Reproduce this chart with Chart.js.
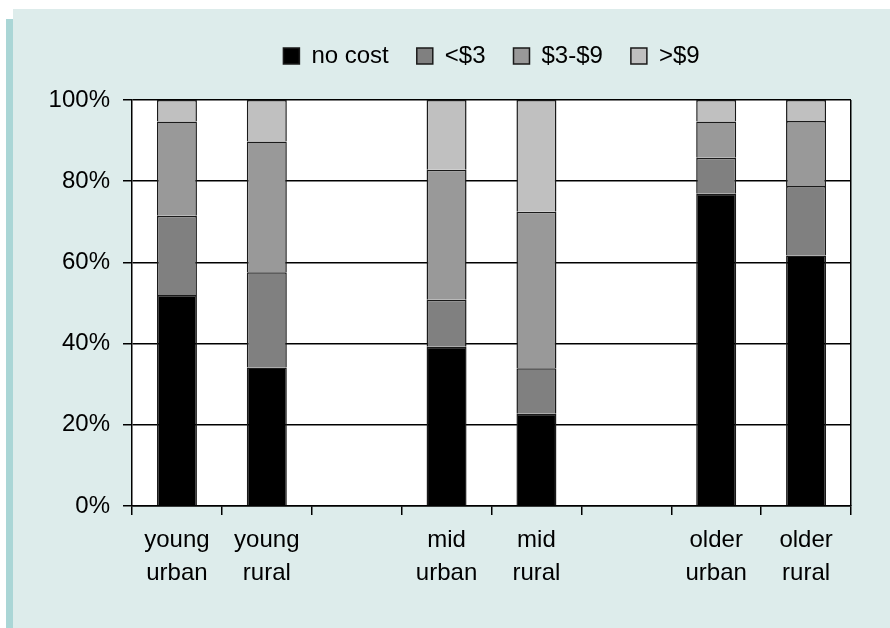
<!DOCTYPE html>
<html>
<head>
<meta charset="utf-8">
<style>
  html, body { margin: 0; padding: 0; background: #ffffff; }
  #wrap { position: relative; width: 890px; height: 628px; }
</style>
<script src="https://cdn.jsdelivr.net/npm/chart.js@4/dist/chart.umd.min.js"></script>
</head>
<body>
<div id="wrap"><canvas id="chart" width="890" height="628"></canvas></div>
<script>
// Category labels (blank slots separate the age groups)
const categories = [
  ['young', 'urban'], ['young', 'rural'], '',
  ['mid', 'urban'], ['mid', 'rural'], '',
  ['older', 'urban'], ['older', 'rural']
];

// Share of respondents by cost band, percent
const noCost  = [52.0, 34.1, null, 39.2, 22.7, null, 76.9, 61.7];
const under3  = [19.5, 23.5, null, 11.6, 11.2, null,  8.9, 17.1];
const from3to9 = [23.2, 32.2, null, 32.0, 38.6, null,  8.9, 16.0];
const over9   = [ 5.3, 10.2, null, 17.2, 27.5, null,  5.3,  5.2];

const seriesNames = ['no cost', '<$3', '$3-$9', '>$9'];
const yTicks = [0, 20, 40, 60, 80, 100];

const FONT = '"Liberation Sans", Arial, Helvetica, sans-serif';
Chart.defaults.font.family = FONT;
Chart.defaults.font.size = 24;
Chart.defaults.color = '#000';

// Panel background, side stripe and white plot area
const backdrop = {
  id: 'backdrop',
  beforeDraw(chart) {
    const { ctx, chartArea: a } = chart;
    ctx.save();
    ctx.fillStyle = '#ffffff';
    ctx.fillRect(0, 0, chart.width, chart.height);
    ctx.fillStyle = '#ddeceb';
    ctx.fillRect(13, 9, chart.width - 13, chart.height - 9);
    ctx.fillStyle = '#aad6d6';
    ctx.fillRect(6, 19, 7, chart.height - 19);
    ctx.fillStyle = '#ffffff';
    ctx.fillRect(a.left, a.top, a.right - a.left, a.bottom - a.top);
    ctx.restore();
  },
  afterDraw(chart) {
    const { ctx, chartArea: a } = chart;
    ctx.save();
    ctx.strokeStyle = '#000';
    ctx.lineWidth = 1.5;
    ctx.beginPath();
    ctx.moveTo(Math.round(a.right) - 0.25, a.top);
    ctx.lineTo(Math.round(a.right) - 0.25, a.bottom);
    ctx.stroke();
    ctx.restore();
  }
};

// Centre the legend over the plot area rather than the whole canvas
const legendOverPlot = {
  id: 'legendOverPlot',
  afterLayout(chart) {
    const lg = chart.legend, a = chart.chartArea;
    if (!lg) return;
    const dx = (a.left + a.right) / 2 - (lg.left + lg.right) / 2;
    lg.left += dx;
    lg.right += dx;
  }
};

const colors = ['#000000', '#808080', '#999999', '#c0c0c0'];
const values = [noCost, under3, from3to9, over9];

new Chart(document.getElementById('chart'), {
  type: 'bar',
  data: {
    labels: categories,
    datasets: values.map((v, i) => ({
      label: seriesNames[i],
      data: v,
      backgroundColor: colors[i],
      borderColor: '#1a1a1a',
      borderWidth: 1.5,
      barPercentage: 0.445,
      categoryPercentage: 1.0
    }))
  },
  options: {
    responsive: false,
    animation: false,
    layout: { padding: { left: 14, right: 39, top: 16, bottom: 29 } },
    plugins: {
      tooltip: { enabled: false },
      legend: {
        position: 'top',
        labels: {
          boxWidth: 16,
          boxHeight: 16,
          padding: 28,
          color: '#000',
          font: { size: 24, family: FONT }
        }
      }
    },
    scales: {
      x: {
        stacked: true,
        offset: true,
        grid: {
          display: true,
          drawOnChartArea: false,
          offset: true,
          color: '#000',
          lineWidth: 1.5,
          tickLength: 9
        },
        border: { display: true, color: '#000', width: 1.5 },
        ticks: {
          color: '#000',
          padding: 9,
          maxRotation: 0,
          autoSkip: false,
          font: { size: 24, family: FONT, lineHeight: 1.375 }
        }
      },
      top: {
        type: 'category',
        position: 'top',
        display: true,
        grid: { display: false },
        border: { display: false },
        ticks: { display: false },
        afterFit(s) { s.height = 22; }
      },
      y: {
        stacked: true,
        min: 0,
        max: 100,
        afterFit(s) { s.width = 118; },
        afterBuildTicks(s) { s.ticks = yTicks.map(v => ({ value: v })); },
        grid: {
          color: '#000',
          lineWidth: 1.5,
          tickLength: 9
        },
        border: { display: true, color: '#000', width: 1.5 },
        ticks: {
          color: '#000',
          padding: 13,
          font: { size: 24, family: FONT },
          callback: v => v + '%'
        }
      }
    }
  },
  plugins: [backdrop, legendOverPlot]
});
</script>
</body>
</html>
